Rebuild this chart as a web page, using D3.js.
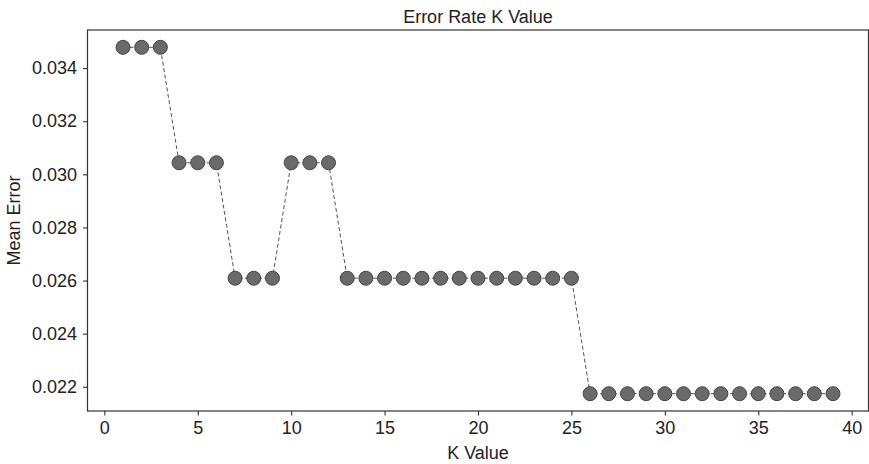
<!DOCTYPE html>
<html>
<head>
<meta charset="utf-8">
<script src="https://cdn.jsdelivr.net/npm/d3@7"></script>
<style>
  body { margin: 0; background: #fff; }
  text { font-family: "Liberation Sans", Arial, sans-serif; fill: #222; }
</style>
</head>
<body>
<div id="chart"></div>
<script>
// k values tested and the mean error for each
var kValues = [1, 2, 3, 4, 5, 6, 7, 8, 9, 10, 11, 12, 13, 14, 15, 16, 17, 18, 19, 20,
               21, 22, 23, 24, 25, 26, 27, 28, 29, 30, 31, 32, 33, 34, 35, 36, 37, 38, 39];
var meanError = [0.034783, 0.034783, 0.034783, 0.030435, 0.030435, 0.030435,
                 0.026087, 0.026087, 0.026087, 0.030435, 0.030435, 0.030435,
                 0.026087, 0.026087, 0.026087, 0.026087, 0.026087, 0.026087, 0.026087,
                 0.026087, 0.026087, 0.026087, 0.026087, 0.026087, 0.026087,
                 0.021739, 0.021739, 0.021739, 0.021739, 0.021739, 0.021739, 0.021739,
                 0.021739, 0.021739, 0.021739, 0.021739, 0.021739, 0.021739, 0.021739];
var xTicks = [0, 5, 10, 15, 20, 25, 30, 35, 40];
var yTicks = [0.022, 0.024, 0.026, 0.028, 0.030, 0.032, 0.034];

var width = 869, height = 464,
    margins = {top: 30, left: 87.5, right: 0.5, bottom: 53};

var data = kValues.map(function (k, i) { return {x: k, y: meanError[i]}; });

var svg = d3.select("#chart").append("svg")
    .attr("width", width)
    .attr("height", height);

var x = d3.scaleLinear().domain([-0.9, 40.9])
    .range([margins.left, width - margins.right]);
var y = d3.scaleLinear().domain([0.021087, 0.035435])
    .range([height - margins.bottom, margins.top]);

// frame
svg.append("rect")
    .attr("x", margins.left)
    .attr("y", margins.top)
    .attr("width", width - margins.left - margins.right)
    .attr("height", height - margins.top - margins.bottom)
    .attr("fill", "none")
    .attr("stroke", "#333")
    .attr("stroke-width", 1.2);

var xAxis = svg.append("g")
    .attr("transform", "translate(0," + (height - margins.bottom) + ")")
    .call(d3.axisBottom(x).tickValues(xTicks).tickSize(4.5).tickPadding(5.5).tickFormat(d3.format("d")));
var yAxis = svg.append("g")
    .attr("transform", "translate(" + margins.left + ",0)")
    .call(d3.axisLeft(y).tickValues(yTicks).tickSize(4.5).tickPadding(6).tickFormat(d3.format(".3f")));

[xAxis, yAxis].forEach(function (g) {
    g.select(".domain").remove();
    g.selectAll(".tick line").attr("stroke", "#333").attr("stroke-width", 1.1);
    g.selectAll(".tick text")
        .attr("font-size", 18)
        .attr("font-family", "'Liberation Sans', Arial, sans-serif")
        .attr("fill", "#222");
});

// dashed line
svg.append("path")
    .datum(data)
    .attr("fill", "none")
    .attr("stroke", "#555")
    .attr("stroke-width", 1)
    .attr("stroke-dasharray", "4,2.5")
    .attr("d", d3.line()
        .x(function (d) { return x(d.x); })
        .y(function (d) { return y(d.y); }));

// markers
svg.selectAll("circle.pt")
    .data(data)
    .enter()
    .append("circle")
    .attr("class", "pt")
    .attr("cx", function (d) { return x(d.x); })
    .attr("cy", function (d) { return y(d.y); })
    .attr("r", 7)
    .attr("fill", "#6a6a6c")
    .attr("stroke", "#454547")
    .attr("stroke-width", 1);

// title and labels
svg.append("text")
    .attr("x", (margins.left + width - margins.right) / 2)
    .attr("y", 23)
    .attr("text-anchor", "middle")
    .attr("font-size", 18)
    .text("Error Rate K Value");

svg.append("text")
    .attr("x", (margins.left + width - margins.right) / 2)
    .attr("y", 459)
    .attr("text-anchor", "middle")
    .attr("font-size", 18)
    .text("K Value");

svg.append("text")
    .attr("transform", "translate(20," + ((margins.top + height - margins.bottom) / 2) + ") rotate(-90)")
    .attr("text-anchor", "middle")
    .attr("font-size", 18)
    .text("Mean Error");
</script>
</body>
</html>
